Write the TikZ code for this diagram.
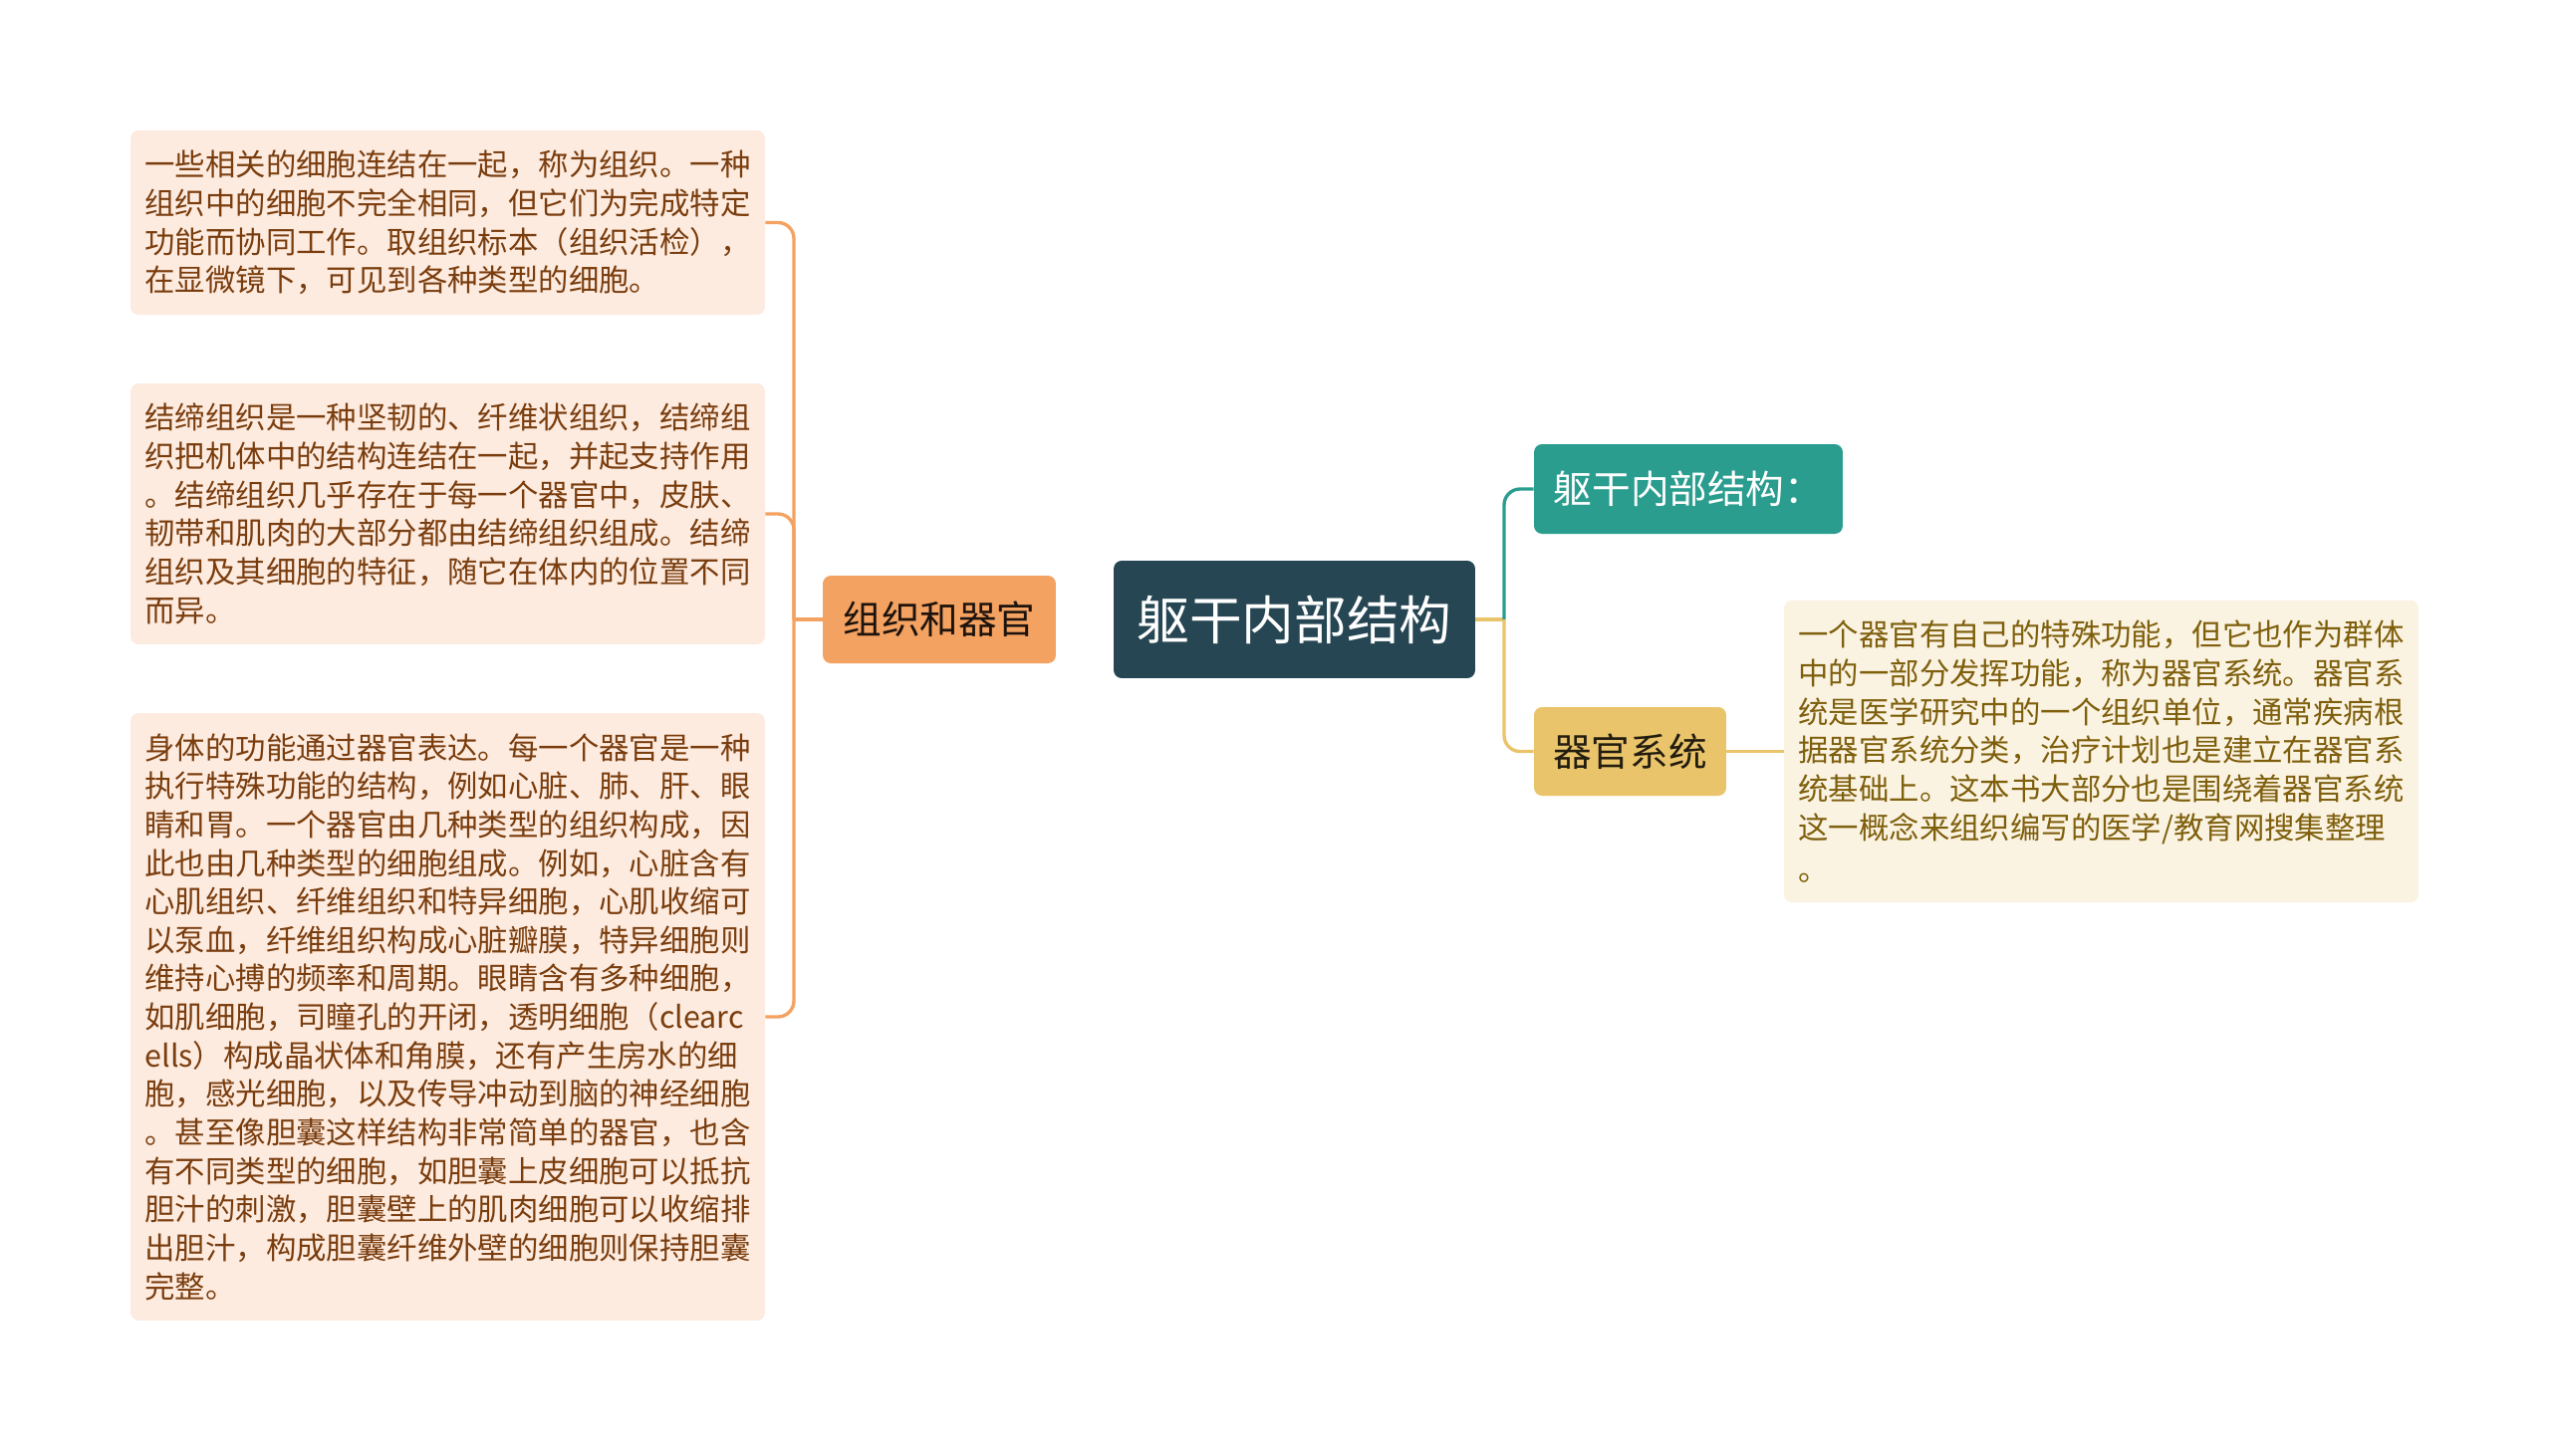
\documentclass[tikz,border=0pt]{standalone}
\usepackage{fontspec}
\setmainfont{Noto Sans CJK SC}
\usepackage{tikz}
\usetikzlibrary{positioning}

\definecolor{rootbg}{HTML}{264653}
\definecolor{orgbg}{HTML}{F4A261}
\definecolor{tealbg}{HTML}{2A9D8F}
\definecolor{yelbg}{HTML}{E9C46A}
\definecolor{leafbg}{HTML}{FDEBDF}
\definecolor{leaftxt}{HTML}{7A3D0E}
\definecolor{rleafbg}{HTML}{FBF3E2}
\definecolor{rleaftxt}{HTML}{7E5F0C}

\begin{document}
\begin{tikzpicture}[x=0.02cm,y=-0.02cm]
\tikzstyle{every node}+=[inner sep=0pt]
\tikzstyle{box}=[rounded corners=0.16cm, align=left]
\tikzstyle{leaf}=[box, fill=leafbg, text=leaftxt, minimum width=12.74cm, inner ysep=11.5pt, font=\fontsize{17.3}{22}\selectfont]
\tikzstyle{rleaf}=[leaf, fill=rleafbg, text=rleaftxt]
\tikzstyle{mid}=[box, align=center, font=\fontsize{22}{26}\selectfont]
\tikzstyle{orgline}=[orgbg, line width=1.9pt, rounded corners=0.32cm]
\tikzstyle{tline}=[tealbg, line width=1.9pt, rounded corners=0.32cm]
\tikzstyle{yline}=[yelbg, line width=1.9pt, rounded corners=0.32cm]

\useasboundingbox (0,0) rectangle (2560,1461);

% centre node
\node [box, align=center, fill=rootbg, text=white, minimum width=7.26cm, minimum height=2.36cm,
  font=\fontsize{30}{34}\selectfont] (root) at (1299.5,622) {躯干内部结构};

% left side
\node [mid, fill=orgbg, text=black!80!orgbg!60!black, minimum width=4.68cm, minimum height=1.76cm] (org) at (943,622) {组织和器官};

\node [leaf] (tis) at (449.5,223.5) {一些相关的细胞连结在一起，称为组织。一种\\
组织中的细胞不完全相同，但它们为完成特定\\
功能而协同工作。取组织标本（组织活检），\\
在显微镜下，可见到各种类型的细胞。};

\node [leaf] (conn) at (449.5,516) {结缔组织是一种坚韧的、纤维状组织，结缔组\\
织把机体中的结构连结在一起，并起支持作用\\
。结缔组织几乎存在于每一个器官中，皮肤、\\
韧带和肌肉的大部分都由结缔组织组成。结缔\\
组织及其细胞的特征，随它在体内的位置不同\\
而异。};

\node [leaf] (organ) at (449.5,1021) {身体的功能通过器官表达。每一个器官是一种\\
执行特殊功能的结构，例如心脏、肺、肝、眼\\
睛和胃。一个器官由几种类型的组织构成，因\\
此也由几种类型的细胞组成。例如，心脏含有\\
心肌组织、纤维组织和特异细胞，心肌收缩可\\
以泵血，纤维组织构成心脏瓣膜，特异细胞则\\
维持心搏的频率和周期。眼睛含有多种细胞，\\
如肌细胞，司瞳孔的开闭，透明细胞（clearc\\
ells）构成晶状体和角膜，还有产生房水的细\\
胞，感光细胞，以及传导冲动到脑的神经细胞\\
。甚至像胆囊这样结构非常简单的器官，也含\\
有不同类型的细胞，如胆囊上皮细胞可以抵抗\\
胆汁的刺激，胆囊壁上的肌肉细胞可以收缩排\\
出胆汁，构成胆囊纤维外壁的细胞则保持胆囊\\
完整。};

% right side
\node [mid, fill=tealbg, text=white, minimum width=6.2cm, minimum height=1.8cm] (body) at (1695,491) {躯干内部结构：};
\node [mid, fill=yelbg, text=black!85!yelbg, minimum width=3.86cm, minimum height=1.78cm] (sys) at (1636.5,754.5) {器官系统};

\node [rleaf] (sysleaf) at (2109.5,754.5) {一个器官有自己的特殊功能，但它也作为群体\\
中的一部分发挥功能，称为器官系统。器官系\\
统是医学研究中的一个组织单位，通常疾病根\\
据器官系统分类，治疗计划也是建立在器官系\\
统基础上。这本书大部分也是围绕着器官系统\\
这一概念来组织编写的医学/教育网搜集整理\\[2pt]
。};

% Lines
\coordinate (lj) at (797,622);
\coordinate (rj) at (1510,622);
\draw [orgline] (org.west) -- (lj);
\draw [orgline] (tis.east) -| (lj);
\draw [orgline] (conn.east) -| (lj);
\draw [orgline] (organ.east) -| (lj);

\draw [yline] (root.east) -- (rj);
\draw [tline] (rj) |- (body.west);
\draw [yline] (rj) |- (sys.west);
\draw [yline] (sys.east) -- (sysleaf.west);
\end{tikzpicture}
\end{document}
